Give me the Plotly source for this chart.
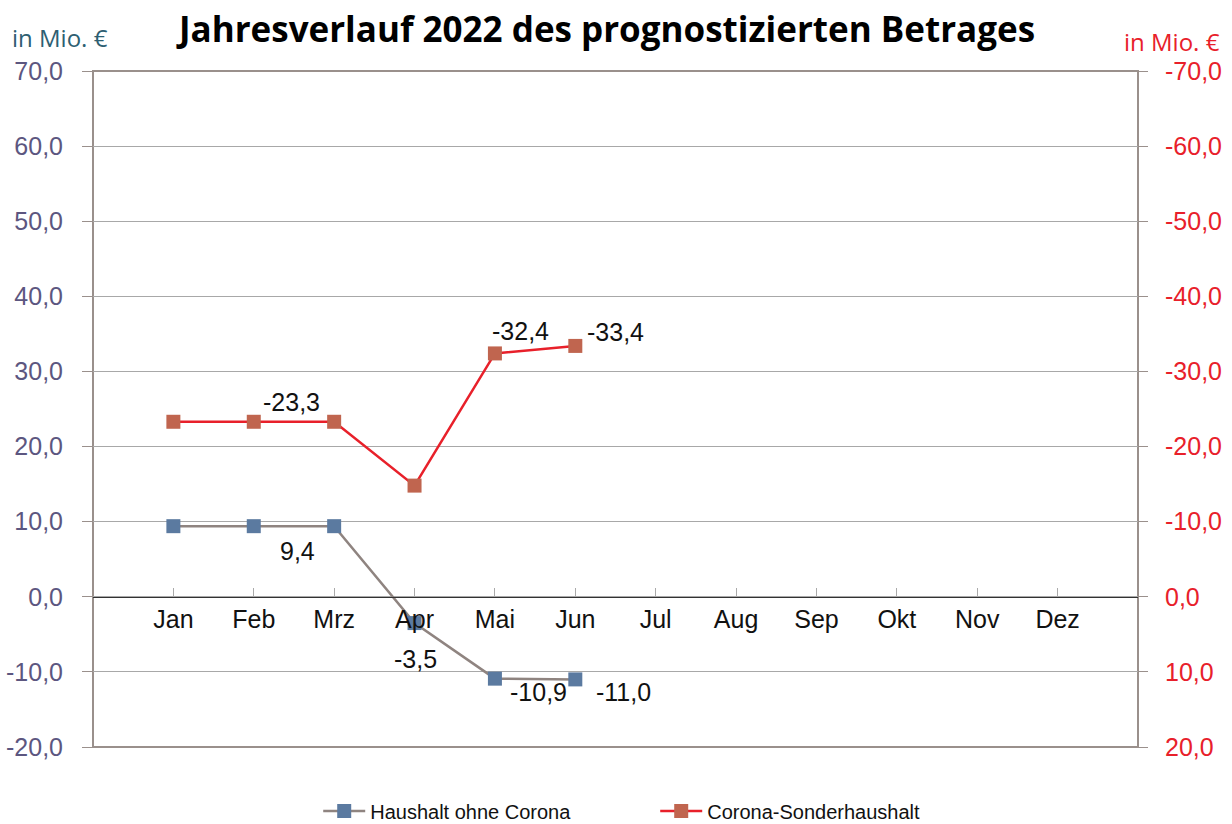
import plotly.graph_objects as go

months = ["Jan", "Feb", "Mrz", "Apr", "Mai", "Jun", "Jul", "Aug", "Sep", "Okt", "Nov", "Dez"]
haushalt = [9.4, 9.4, 9.4, -3.5, -10.9, -11.0, None, None, None, None, None, None]
corona = [-23.3, -23.3, -23.3, -14.8, -32.4, -33.4, None, None, None, None, None, None]
left_ticks = [70, 60, 50, 40, 30, 20, 10, 0, -10, -20]
right_ticks = [-70, -60, -50, -40, -30, -20, -10, 0, 10, 20]

def fmt(v):
    return f"{v:.1f}".replace(".", ",")

FONT = "Liberation Sans, Arial, sans-serif"

fig = go.Figure()
fig.add_trace(go.Scatter(
    x=months, y=haushalt, name="Haushalt ohne Corona", mode="lines+markers",
    line=dict(color="#8f8480", width=2.5),
    marker=dict(symbol="square", size=14, color="#5b7aa0"),
    yaxis="y", connectgaps=False,
))
fig.add_trace(go.Scatter(
    x=months, y=corona, name="Corona-Sonderhaushalt", mode="lines+markers",
    line=dict(color="#e8202a", width=2.5),
    marker=dict(symbol="square", size=14, color="#c0654f"),
    yaxis="y2", connectgaps=False,
))

# data labels: (series, month index, xshift, yshift)
labels = [
    ("c", 1, 38, 20),
    ("c", 4, 26, 22),
    ("c", 5, 40, 14),
    ("h", 2, -37, -25),
    ("h", 3, 1, -36),
    ("h", 4, 44, -13),
    ("h", 5, 48, -13),
]
for s, i, dx, dy in labels:
    vals = corona if s == "c" else haushalt
    fig.add_annotation(
        x=months[i], y=vals[i], xref="x", yref="y2" if s == "c" else "y",
        text=fmt(vals[i]), showarrow=False, xshift=dx, yshift=dy,
        font=dict(family=FONT, size=25, color="#111111"),
    )

fig.add_shape(type="rect", xref="x domain", yref="y domain", x0=0, x1=1, y0=0, y1=1,
              line=dict(color="#9a908c", width=2), layer="below")

fig.add_annotation(x=-0.0794, y=1.05, xref="paper", yref="paper", xanchor="left", yanchor="middle",
                   text="in Mio. €", showarrow=False,
                   font=dict(family="Open Sans, sans-serif", size=24, color="#2e5f72"))
fig.add_annotation(x=1.080, y=1.043, xref="paper", yref="paper", xanchor="right", yanchor="middle",
                   text="in Mio. €", showarrow=False,
                   font=dict(family="Open Sans, sans-serif", size=24, color="#e8202a"))

fig.update_layout(
    width=1232, height=824,
    paper_bgcolor="white", plot_bgcolor="white",
    margin=dict(l=93, r=94, t=71, b=77, autoexpand=False),
    title=dict(text="<b>Jahresverlauf 2022 des prognostizierten Betrages</b>",
               x=0.4927, xanchor="center", y=0.9636, yanchor="middle",
               font=dict(family="Open Sans, sans-serif", size=35, color="#000000")),
    showlegend=True,
    legend=dict(orientation="h", x=0.538, xanchor="center", y=-0.066, yanchor="top",
                font=dict(family=FONT, size=20, color="#111111"),
                itemwidth=42, entrywidth=280, entrywidthmode="pixels"),
    xaxis=dict(
        type="category", range=[-1, 12], showgrid=False, zeroline=False, automargin=False,
        anchor="free", position=20 / 90, showline=True, linecolor="#333333", linewidth=1,
        ticks="inside", ticklen=9, tickcolor="#aaaaaa", tickwidth=1,
        tickfont=dict(family=FONT, size=25, color="#111111"),
    ),
    yaxis=dict(
        range=[-20, 70], tickvals=left_ticks, ticktext=[fmt(v) for v in left_ticks],
        showgrid=True, gridcolor="#a8a8a8", gridwidth=1, zeroline=False, automargin=False,
        ticks="outside", ticklen=10, tickcolor="#9a908c", ticklabelstandoff=14,
        tickfont=dict(family=FONT, size=25, color="#5c5680"),
    ),
    yaxis2=dict(
        range=[20, -70], overlaying="y", side="right", tickvals=right_ticks,
        ticktext=[fmt(v) for v in right_ticks], showgrid=False, zeroline=False, automargin=False,
        ticks="outside", ticklen=9, tickcolor="#9a908c", ticklabelstandoff=12,
        tickfont=dict(family=FONT, size=25, color="#e8202a"),
    ),
)

fig.write_html("out.html", config={"displayModeBar": False},
               post_script="document.body.style.margin='0';document.body.style.overflow='hidden';")
